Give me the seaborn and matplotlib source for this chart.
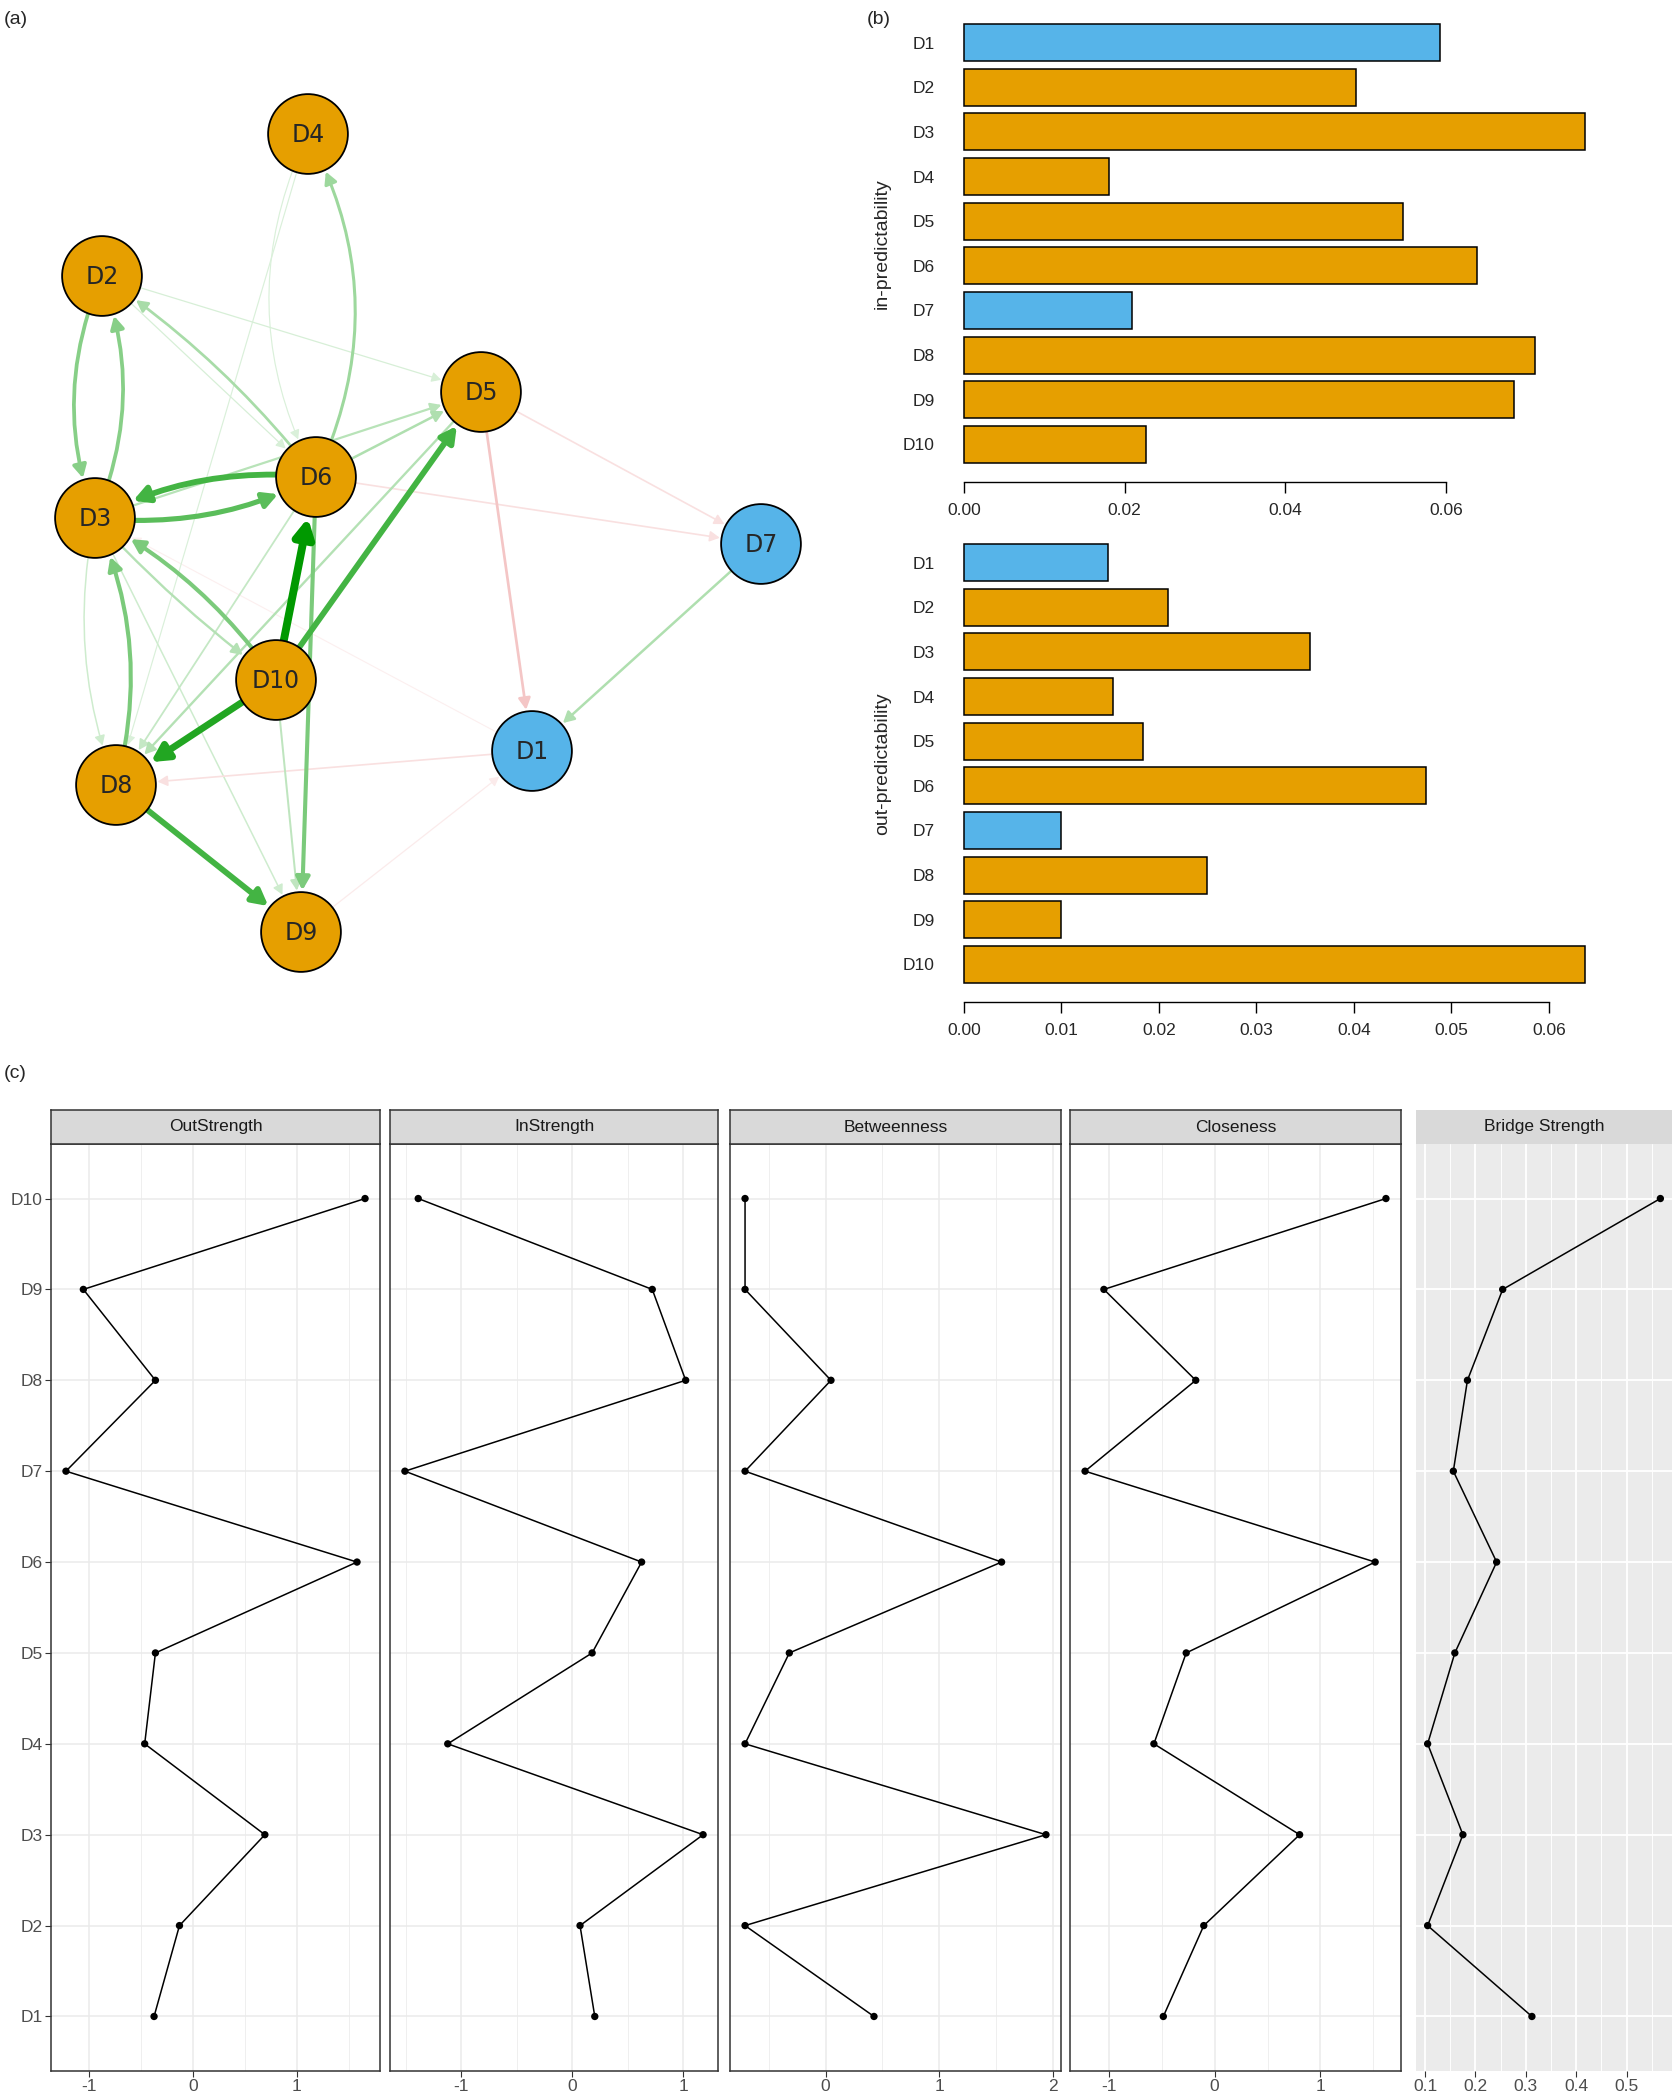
import numpy as np
import pandas as pd
import matplotlib
matplotlib.use("Agg")
import matplotlib.pyplot as plt
import seaborn as sns
from matplotlib.patches import FancyArrowPatch
from matplotlib import font_manager
from matplotlib.ticker import FixedLocator

# ---------------- data ----------------
nodes = ["D1", "D2", "D3", "D4", "D5", "D6", "D7", "D8", "D9", "D10"]
node_group = ["blue", "orange", "orange", "orange", "orange",
              "orange", "blue", "orange", "orange", "orange"]

# network layout (panel a)
node_x = [532, 102, 95, 308, 481, 316, 761, 116, 301, 276]
node_y = [751, 276, 518, 134, 392, 477, 544, 785, 932, 680]

edge_from = ["D10", "D10", "D10", "D6", "D3", "D8", "D6", "D10", "D8", "D2", "D3",
             "D6", "D6", "D6", "D3", "D7", "D3", "D5", "D10", "D6", "D3", "D3",
             "D2", "D2", "D4", "D4",
             "D5", "D5", "D6", "D1", "D9", "D1"]
edge_to = ["D6", "D8", "D5", "D3", "D6", "D9", "D9", "D3", "D3", "D3", "D2",
           "D4", "D2", "D5", "D5", "D1", "D10", "D8", "D9", "D8", "D8", "D9",
           "D5", "D6", "D8", "D6",
           "D1", "D7", "D7", "D8", "D1", "D3"]
edge_weight = [1.0, 0.85, 0.7, 0.7, 0.6, 0.7, 0.45, 0.45, 0.45, 0.4, 0.4,
               0.3, 0.25, 0.22, 0.18, 0.22, 0.2, 0.2, 0.15, 0.12, 0.08, 0.08,
               0.04, 0.04, 0.03, 0.03,
               0.25, 0.1, 0.1, 0.1, 0.04, 0.02]
edge_sign = [1] * 26 + [-1] * 6
edge_curve = [0, 0, 0, 0.15, 0.15, 0, 0, 0.12, 0.18, 0.2, 0.2,
              0.25, 0.08, 0, 0, 0, 0.05, 0, 0, 0, 0.15, 0,
              0, 0, 0, 0.25,
              0, 0, 0, 0, 0, 0]

# predictability (panel b)
in_pred = [0.0593, 0.0488, 0.0773, 0.0180, 0.0547, 0.0639, 0.0209, 0.0711, 0.0685, 0.0227]
out_pred = [0.0148, 0.0209, 0.0355, 0.0153, 0.0184, 0.0474, 0.0100, 0.0249, 0.0099, 0.0637]
in_ticks = [0.00, 0.02, 0.04, 0.06]
out_ticks = [0.00, 0.01, 0.02, 0.03, 0.04, 0.05, 0.06]

# centrality (panel c), D1..D10
outstrength = [-0.372, -0.128, 0.692, -0.462, -0.359, 1.577, -1.218, -0.359, -1.051, 1.654]
instrength = [0.205, 0.072, 1.181, -1.120, 0.181, 0.627, -1.506, 1.024, 0.723, -1.386]
betweenness = [0.426, -0.710, 1.941, -0.710, -0.320, 1.550, -0.710, 0.047, -0.710, -0.710]
closeness = [-0.484, -0.102, 0.803, -0.573, -0.268, 1.516, -1.223, -0.178, -1.045, 1.618]
bridge_strength = [0.312, 0.105, 0.175, 0.105, 0.159, 0.242, 0.156, 0.184, 0.254, 0.567]
std_ticks = [-1, 0, 1]
btw_ticks = [0, 1, 2]
bridge_ticks = [0.1, 0.2, 0.3, 0.4, 0.5]

# ---------------- style ----------------
sns.set_style("white")
avail = {f.name for f in font_manager.fontManager.ttflist}
SANS = "Liberation Sans" if "Liberation Sans" in avail else "DejaVu Sans"
plt.rcParams["font.family"] = [SANS, "DejaVu Sans"]

pal = {"orange": "#E69F00", "blue": "#56B4E9"}
W, H, DPI = 1675, 2100, 100
fig = plt.figure(figsize=(W / DPI, H / DPI), dpi=DPI)
fig.patch.set_facecolor("white")


def add_px_axes(l, t, r, b):
    return fig.add_axes([l / W, 1 - b / H, (r - l) / W, (b - t) / H])


def blend(hex_col, a):
    c = np.array(matplotlib.colors.to_rgb(hex_col))
    return tuple(1 - a + a * c)


# ---------------- panel (a): network ----------------
ax_net = add_px_axes(0, 0, 860, 1040)
pos = {n: (x, y) for n, x, y in zip(nodes, node_x, node_y)}
for i in np.argsort(edge_weight):
    w = edge_weight[i]
    base = "#009900" if edge_sign[i] > 0 else "#D00000"
    a = 0.12 + 0.88 * w if edge_sign[i] > 0 else 0.05 + 0.7 * w
    col = blend(base, a)
    ms = 9 + 9 * w
    arr = FancyArrowPatch(pos[edge_from[i]], pos[edge_to[i]],
                          connectionstyle=f"arc3,rad={edge_curve[i]}",
                          arrowstyle="-|>,head_length=0.6,head_width=0.32",
                          mutation_scale=ms, lw=0.7 + 5.0 * w, color=col,
                          shrinkA=29, shrinkB=30, zorder=1 + w)
    ax_net.add_patch(arr)

df_nodes = pd.DataFrame({"x": node_x, "y": node_y, "node": nodes, "group": node_group})
sns.scatterplot(data=df_nodes, x="x", y="y", hue="group", palette=pal, s=3300,
                edgecolor="black", linewidth=1.3, legend=False, ax=ax_net, zorder=10)
for n, x, y in zip(nodes, node_x, node_y):
    ax_net.text(x, y + 1, n, ha="center", va="center", fontsize=17,
                family=["DejaVu Sans"], zorder=11)
ax_net.set_xlim(0, 860)
ax_net.set_ylim(1040, 0)
ax_net.axis("off")


# ---------------- panel (b): predictability ----------------
def pred_panel(top, bottom, vals, ylabel, ticks):
    ax = add_px_axes(964, top, 1585, bottom)
    df = pd.DataFrame({"node": nodes, "value": vals, "group": node_group})
    sns.barplot(data=df, x="value", y="node", hue="group", palette=pal, dodge=False,
                order=nodes, width=0.833, edgecolor="black", linewidth=1.1,
                saturation=1, legend=False, ax=ax)
    for p in ax.patches:
        p.set_clip_on(False)
    ax.set_xlim(0, max(vals))
    ax.set_ylim(9.4165, -0.4165)
    for s in ["top", "right", "left"]:
        ax.spines[s].set_visible(False)
    ax.spines["bottom"].set_position(("outward", 13.7))
    ax.spines["bottom"].set_bounds(ticks[0], ticks[-1])
    ax.spines["bottom"].set_color("black")
    ax.spines["bottom"].set_linewidth(1.0)
    ax.set_xticks(ticks)
    ax.set_xticklabels([f"{t:.2f}" for t in ticks])
    ax.tick_params(axis="x", length=8, width=1.0, color="black", pad=7,
                   labelsize=12.5, bottom=True)
    ax.tick_params(axis="y", length=0, pad=21, labelsize=12.5)
    ax.set_xlabel("")
    ax.set_ylabel(ylabel, fontsize=14)
    ax.yaxis.set_label_coords(-0.118, 0.5)
    ax.set_facecolor("none")
    return ax


pred_panel(24, 463, in_pred, "in-predictability", in_ticks)
pred_panel(544, 983, out_pred, "out-predictability", out_ticks)


# ---------------- panel (c): centrality ----------------
def cent_panel(left, right, vals, title, majors, minor_step, gray=False, ylabels=False):
    top, bottom = 1144, 2071
    ax = add_px_axes(left, top, right, bottom)
    ypos = list(range(10))
    df = pd.DataFrame({"value": vals, "pos": ypos})
    sns.lineplot(data=df, x="value", y="pos", sort=False, estimator=None,
                 color="black", lw=1.1, ax=ax, zorder=3)
    sns.scatterplot(data=df, x="value", y="pos", color="black", s=28,
                    edgecolor="none", ax=ax, zorder=4)
    lo, hi = min(vals), max(vals)
    pad = 0.05 * (hi - lo)
    xl = (lo - pad, hi + pad)
    ax.set_xlim(*xl)
    ax.set_ylim(-0.6, 9.6)
    ax.set_xticks(majors)
    ax.set_xticklabels([f"{m:g}" for m in majors])
    cand = np.arange(majors[0] - minor_step, majors[-1] + 2 * minor_step, minor_step)
    minors = [m for m in cand if xl[0] <= m <= xl[1]
              and all(abs(m - M) > 1e-9 for M in majors)]
    ax.xaxis.set_minor_locator(FixedLocator(minors))
    ax.set_yticks(ypos)
    ax.set_xlabel("")
    ax.set_ylabel("")
    ax.set_axisbelow(True)
    if gray:
        ax.set_facecolor("#EBEBEB")
        ax.grid(True, which="major", color="white", lw=1.3)
        ax.grid(True, which="minor", axis="x", color="white", lw=0.65)
        for s in ax.spines.values():
            s.set_visible(False)
    else:
        ax.set_facecolor("white")
        ax.grid(True, which="major", color="#EBEBEB", lw=1.1)
        ax.grid(True, which="minor", axis="x", color="#EBEBEB", lw=0.55)
        for s in ax.spines.values():
            s.set_color("#333333")
            s.set_linewidth(1.1)
    ax.tick_params(axis="x", which="major", length=4, width=0.8, color="#333333",
                   labelsize=12.5, labelcolor="#4D4D4D", pad=2, bottom=True)
    ax.tick_params(axis="x", which="minor", length=0)
    if ylabels:
        ax.set_yticklabels(nodes)
        ax.tick_params(axis="y", length=4, width=0.8, color="#333333", labelsize=12.5,
                       labelcolor="#4D4D4D", pad=2, left=True)
    else:
        ax.set_yticklabels([])
        ax.tick_params(axis="y", length=0)
    # strip
    st = add_px_axes(left, 1110, right, top)
    st.set_facecolor("#D9D9D9")
    st.set_xticks([])
    st.set_yticks([])
    for s in st.spines.values():
        if gray:
            s.set_visible(False)
        else:
            s.set_color("#333333")
            s.set_linewidth(1.1)
    st.text(0.5, 0.5, title, ha="center", va="center", fontsize=12.5,
            color="#1A1A1A", transform=st.transAxes)
    return ax


cent_panel(51, 380, outstrength, "OutStrength", std_ticks, 0.5, ylabels=True)
cent_panel(390, 718, instrength, "InStrength", std_ticks, 0.5)
cent_panel(730, 1061, betweenness, "Betweenness", btw_ticks, 0.5)
cent_panel(1070, 1401, closeness, "Closeness", std_ticks, 0.5)
cent_panel(1416, 1672, bridge_strength, "Bridge Strength", bridge_ticks, 0.05, gray=True)

# panel letters
fig.text(4 / W, 1 - 19 / H, "(a)", fontsize=14, ha="left", va="center")
fig.text(867 / W, 1 - 19 / H, "(b)", fontsize=14, ha="left", va="center")
fig.text(4 / W, 1 - 1074 / H, "(c)", fontsize=14, ha="left", va="center")

fig.savefig("out.png", dpi=DPI, facecolor="white")
